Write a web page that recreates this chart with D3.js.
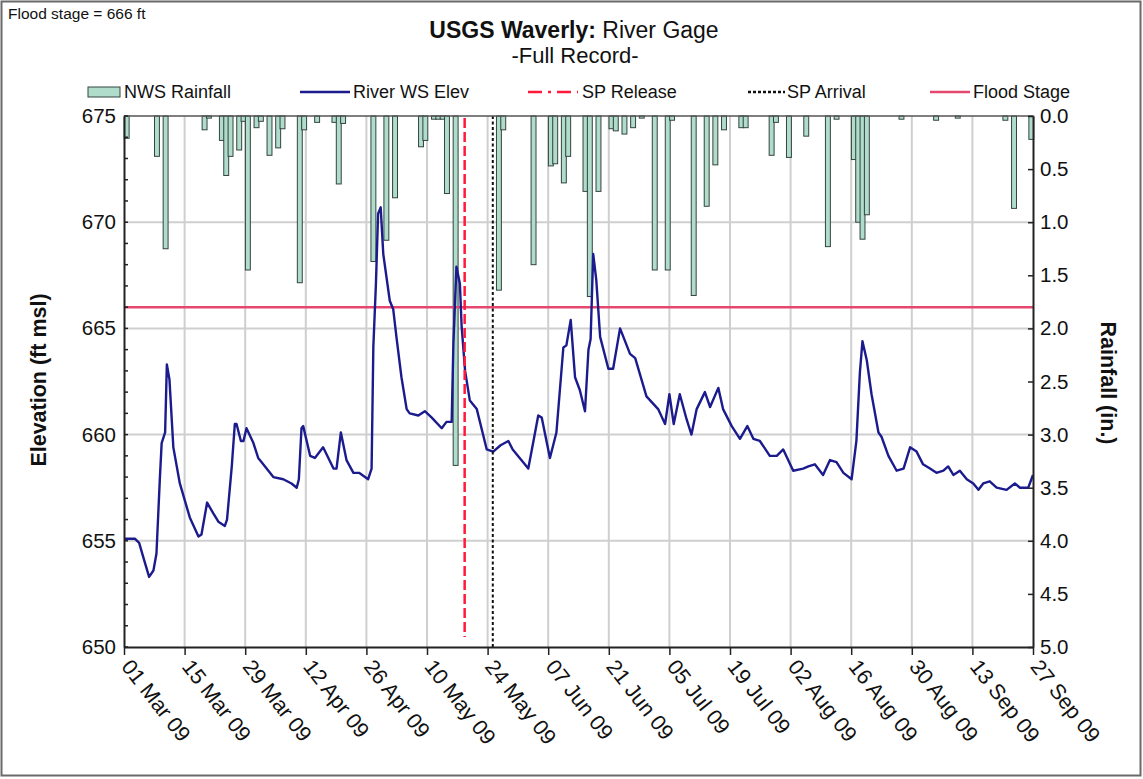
<!DOCTYPE html>
<html>
<head>
<meta charset="utf-8">
<script src="https://cdn.jsdelivr.net/npm/d3@7"></script>
<style>
  html, body { margin: 0; padding: 0; background: #fff; }
  svg { display: block; font-family: "Liberation Sans", Arial, sans-serif; }
</style>
</head>
<body>
<svg id="chart" width="1143" height="779"></svg>
<script>
// ---------------- DATA ----------------
const startDate = "2009-03-01";
const xTickLabels = ["01 Mar 09","15 Mar 09","29 Mar 09","12 Apr 09","26 Apr 09","10 May 09","24 May 09",
  "07 Jun 09","21 Jun 09","05 Jul 09","19 Jul 09","02 Aug 09","16 Aug 09","30 Aug 09","13 Sep 09","27 Sep 09"];
const elevTicks = [650, 655, 660, 665, 670, 675];
const rainTicks = [0.0, 0.5, 1.0, 1.5, 2.0, 2.5, 3.0, 3.5, 4.0, 4.5, 5.0];

// River WS elevation (ft msl): days after 01 Mar 09, and value
const riverDay = [0,2.5,3.5,4.5,5.8,6.8,7.5,8.3,8.7,9.5,9.9,10.5,11.4,12.9,15.2,17.2,17.9,19.2,20.6,21.8,23.3,23.8,24.9,25.6,26.0,27.0,27.6,28.3,29.9,31.0,31.8,34.5,36.8,38.7,39.9,40.4,41.0,41.4,43.0,44.1,46.0,48.4,49.1,50.1,51.4,53.0,54.3,56.4,57.2,57.6,58.2,58.7,59.3,59.9,61.4,62.2,63.0,64.1,65.3,66.0,68.0,69.5,71.1,73.4,74.5,75.7,76.1,76.8,77.6,78.0,78.8,79.9,81.5,83.8,85.3,87.0,88.8,89.8,93.4,94.6,95.7,96.5,98.4,99.9,101.5,102.2,103.2,104.2,105.3,106.5,107.3,107.8,108.4,109.1,110.0,111.9,113.0,114.6,116.9,118.1,120.7,123.4,125.0,126.0,127.0,128.4,130.0,131.1,132.3,134.2,135.4,137.3,138.4,140.4,142.3,144.0,145.4,146.9,149.2,150.8,152.3,154.6,156.9,158.1,159.6,161.5,163.1,164.6,166.2,168.1,169.2,170.0,170.6,171.6,172.7,174.3,175.0,176.6,178.5,180.1,181.6,183.1,184.6,186.2,187.7,189.3,190.4,191.6,193.1,194.7,196.2,197.4,198.5,200.0,201.6,203.9,205.8,207.0,208.9,210.0];
const riverElev = [655.1,655.1,654.9,654.2,653.3,653.6,654.4,658.0,659.6,660.1,663.3,662.6,659.4,657.7,656.1,655.2,655.3,656.8,656.3,655.9,655.7,656.0,658.5,660.5,660.5,659.7,659.7,660.3,659.6,658.9,658.7,658.0,657.9,657.7,657.5,657.9,660.3,660.4,659.0,658.9,659.4,658.4,658.4,660.1,658.8,658.2,658.2,657.9,658.4,664.1,667.1,670.4,670.7,668.5,666.3,665.9,664.5,662.7,661.2,661.0,660.9,661.1,660.8,660.3,660.6,660.6,664.3,667.9,667.1,665.1,663.0,661.6,661.2,659.3,659.2,659.5,659.7,659.3,658.4,659.7,660.9,660.8,658.9,660.1,664.1,664.2,665.4,662.7,662.1,661.1,664.0,664.5,668.5,667.3,664.6,663.1,663.1,665.0,663.8,663.6,661.8,661.2,660.5,661.9,660.5,661.9,660.7,660.0,661.2,662.0,661.3,662.2,661.2,660.4,659.8,660.4,659.8,659.7,659.0,659.0,659.3,658.3,658.4,658.5,658.6,658.1,658.8,658.7,658.2,657.9,659.7,662.9,664.4,663.5,661.9,660.1,659.9,659.0,658.3,658.4,659.4,659.2,658.6,658.4,658.2,658.3,658.5,658.1,658.3,657.9,657.7,657.4,657.7,657.8,657.5,657.4,657.7,657.5,657.5,658.1];

// NWS daily rainfall (in.): days after 01 Mar 09, and value
const rainDay = [0,7,9,18,19,22,23,24,26,27,28,30,31,33,35,36,40,41,44,48,49,50,57,60,62,68,69,71,72,73,74,76,86,87,94,98,99,101,102,106,107,109,112,113,115,117,119,122,125,126,131,134,136,138,142,143,149,150,153,157,162,164,168,169,170,171,179,187,192,203,205,209];
const rainIn  = [0.21,0.38,1.25,0.13,0.02,0.23,0.56,0.38,0.32,0.05,1.45,0.11,0.05,0.37,0.30,0.12,1.57,0.13,0.06,0.06,0.64,0.07,1.37,1.17,0.77,0.29,0.23,0.03,0.03,0.03,0.73,3.29,1.64,0.13,1.40,0.47,0.45,0.63,0.38,0.71,1.70,0.71,0.12,0.14,0.17,0.11,0.02,1.45,1.45,0.04,1.69,0.85,0.46,0.13,0.11,0.11,0.37,0.06,0.39,0.19,1.23,0.03,0.41,1.00,1.16,0.93,0.03,0.04,0.02,0.04,0.87,0.22];

const floodStage = 666;
const spReleaseDay = 78.7;
const spArrivalDay = 85.2;

const legendLabels = ["NWS Rainfall", "River WS Elev", "SP Release", "SP Arrival", "Flood Stage"];

// ---------------- LAYOUT ----------------
const svg = d3.select("#chart");
const W = 1143, H = 779;
const plot = {left: 124, right: 1033, top: 116, bottom: 647};

const parseTick = d3.utcParse("%d %b %y");
const t0 = d3.utcParse("%Y-%m-%d")(startDate);
const dayToDate = d => new Date(t0.getTime() + d * 86400000);

const x = d3.scaleUtc()
  .domain([parseTick(xTickLabels[0]), parseTick(xTickLabels[xTickLabels.length - 1])])
  .range([plot.left, plot.right]);
const y = d3.scaleLinear().domain([650, 675]).range([plot.bottom, plot.top]);
const yR = d3.scaleLinear().domain([0, 5]).range([plot.top, plot.bottom]);

// outer border
svg.append("rect").attr("x", 1.5).attr("y", 1.5).attr("width", W - 4).attr("height", H - 5)
  .attr("fill", "#fff").attr("stroke", "#6a6a6a").attr("stroke-width", 2);

// gridlines
const grid = svg.append("g").attr("stroke", "#cfcfcf").attr("stroke-width", 2);
grid.selectAll("line.v").data(xTickLabels.slice(1, -1)).join("line")
  .attr("x1", d => x(parseTick(d))).attr("x2", d => x(parseTick(d)))
  .attr("y1", plot.top).attr("y2", plot.bottom);
grid.selectAll("line.h").data(elevTicks.slice(1, -1)).join("line")
  .attr("x1", plot.left).attr("x2", plot.right)
  .attr("y1", d => y(d)).attr("y2", d => y(d));

// rainfall bars (hanging from top)
const rain = rainDay.map((d, i) => ({day: d, v: rainIn[i]}));
svg.append("g").selectAll("rect").data(rain).join("rect")
  .attr("x", d => x(dayToDate(d.day)) + 0.2)
  .attr("y", plot.top)
  .attr("width", d => x(dayToDate(d.day + 1)) - x(dayToDate(d.day)) + 0.6)
  .attr("height", d => yR(d.v) - yR(0))
  .attr("fill", "#b0dccc").attr("stroke", "#34443f").attr("stroke-width", 1);

// flood stage
svg.append("line").attr("x1", plot.left).attr("x2", plot.right)
  .attr("y1", y(floodStage)).attr("y2", y(floodStage))
  .attr("stroke", "#e5476f").attr("stroke-width", 2.5);

// river line
const river = riverDay.map((d, i) => ({date: dayToDate(d), v: riverElev[i]}));
svg.append("path").datum(river)
  .attr("fill", "none").attr("stroke", "#1b1b8e").attr("stroke-width", 2.4)
  .attr("stroke-linejoin", "round")
  .attr("d", d3.line().x(d => x(d.date)).y(d => y(d.v)));

// SP release / arrival
svg.append("line").attr("x1", x(dayToDate(spReleaseDay))).attr("x2", x(dayToDate(spReleaseDay)))
  .attr("y1", plot.top + 2).attr("y2", plot.bottom - 10)
  .attr("stroke", "#ff1a3c").attr("stroke-width", 2.5).attr("stroke-dasharray", "10,4");
svg.append("line").attr("x1", x(dayToDate(spArrivalDay))).attr("x2", x(dayToDate(spArrivalDay)))
  .attr("y1", plot.top).attr("y2", plot.bottom)
  .attr("stroke", "#111").attr("stroke-width", 2).attr("stroke-dasharray", "3,2.5");

// frame top
svg.append("line").attr("x1", plot.left).attr("x2", plot.right).attr("y1", plot.top).attr("y2", plot.top)
  .attr("stroke", "#555").attr("stroke-width", 1.5);

// left axis
const yAxis = d3.axisLeft(y).tickValues(elevTicks).tickSize(0).tickPadding(8).tickFormat(d3.format("d"));
const gL = svg.append("g").attr("transform", `translate(${plot.left},0)`).call(yAxis);
gL.select(".domain").attr("stroke", "#222").attr("stroke-width", 2);
gL.selectAll("text").attr("font-size", 20.5).attr("fill", "#111");
const minorL = d3.range(650, 676, 1);
gL.selectAll("line.minor").data(minorL).join("line").attr("class", "minor")
  .attr("x1", 0).attr("x2", 4).attr("y1", d => y(d)).attr("y2", d => y(d))
  .attr("stroke", "#222").attr("stroke-width", 1.5);

// right axis
const yRAxis = d3.axisRight(yR).tickValues(rainTicks).tickSizeInner(-5).tickSizeOuter(0).tickPadding(7).tickFormat(d3.format(".1f"));
const gR = svg.append("g").attr("transform", `translate(${plot.right},0)`).call(yRAxis);
gR.select(".domain").attr("stroke", "#222").attr("stroke-width", 2);
gR.selectAll(".tick line").attr("stroke", "#222").attr("stroke-width", 1.5);
gR.selectAll("text").attr("font-size", 20.5).attr("fill", "#111").attr("x", 7);

// bottom axis
const xAxis = d3.axisBottom(x).tickValues(xTickLabels.map(parseTick)).tickSize(8).tickSizeOuter(0)
  .tickFormat(d3.utcFormat("%d %b %y"));
const gB = svg.append("g").attr("transform", `translate(0,${plot.bottom})`).call(xAxis);
gB.select(".domain").attr("stroke", "#222").attr("stroke-width", 2);
gB.selectAll(".tick line").attr("stroke", "#222").attr("stroke-width", 1.5);
gB.selectAll("text").attr("font-size", 21.5).attr("fill", "#111")
  .attr("text-anchor", "start").attr("dy", null).attr("y", 0)
  .attr("transform", "translate(-4,20) rotate(52)");

// axis titles
svg.append("text").attr("transform", "translate(46,380) rotate(-90)").attr("text-anchor", "middle")
  .attr("font-size", 21.5).attr("font-weight", "bold").attr("fill", "#111").text("Elevation (ft msl)");
svg.append("text").attr("transform", "translate(1101,383) rotate(90)").attr("text-anchor", "middle")
  .attr("font-size", 21.5).attr("font-weight", "bold").attr("fill", "#111").text("Rainfall (in.)");

// titles
svg.append("text").attr("x", 8).attr("y", 19).attr("font-size", 15.5).attr("fill", "#111")
  .text("Flood stage = 666 ft");
const title = svg.append("text").attr("x", 574).attr("y", 38).attr("text-anchor", "middle")
  .attr("font-size", 23).attr("fill", "#111");
title.append("tspan").attr("font-weight", "bold").text("USGS Waverly:");
title.append("tspan").text(" River Gage");
svg.append("text").attr("x", 575).attr("y", 63).attr("text-anchor", "middle")
  .attr("font-size", 22).attr("fill", "#111").text("-Full Record-");

// legend
const lg = svg.append("g").attr("font-size", 18).attr("fill", "#111");
const ly = 92;
lg.append("rect").attr("x", 88).attr("y", ly - 5).attr("width", 32).attr("height", 10)
  .attr("fill", "#b0dccc").attr("stroke", "#34443f").attr("stroke-width", 1);
lg.append("text").attr("x", 124).attr("y", ly + 6).text(legendLabels[0]);
lg.append("line").attr("x1", 300).attr("x2", 350).attr("y1", ly).attr("y2", ly)
  .attr("stroke", "#1b1b8e").attr("stroke-width", 2.5);
lg.append("text").attr("x", 353).attr("y", ly + 6).text(legendLabels[1]);
lg.append("line").attr("x1", 528).attr("x2", 578).attr("y1", ly).attr("y2", ly)
  .attr("stroke", "#ff1a3c").attr("stroke-width", 2.5).attr("stroke-dasharray", "14,6,3,6");
lg.append("text").attr("x", 582).attr("y", ly + 6).text(legendLabels[2]);
lg.append("line").attr("x1", 748).attr("x2", 785).attr("y1", ly).attr("y2", ly)
  .attr("stroke", "#111").attr("stroke-width", 2.5).attr("stroke-dasharray", "3,2");
lg.append("text").attr("x", 787).attr("y", ly + 6).text(legendLabels[3]);
lg.append("line").attr("x1", 930).attr("x2", 970).attr("y1", ly).attr("y2", ly)
  .attr("stroke", "#e5476f").attr("stroke-width", 2.5);
lg.append("text").attr("x", 973).attr("y", ly + 6).text(legendLabels[4]);
</script>
</body>
</html>
